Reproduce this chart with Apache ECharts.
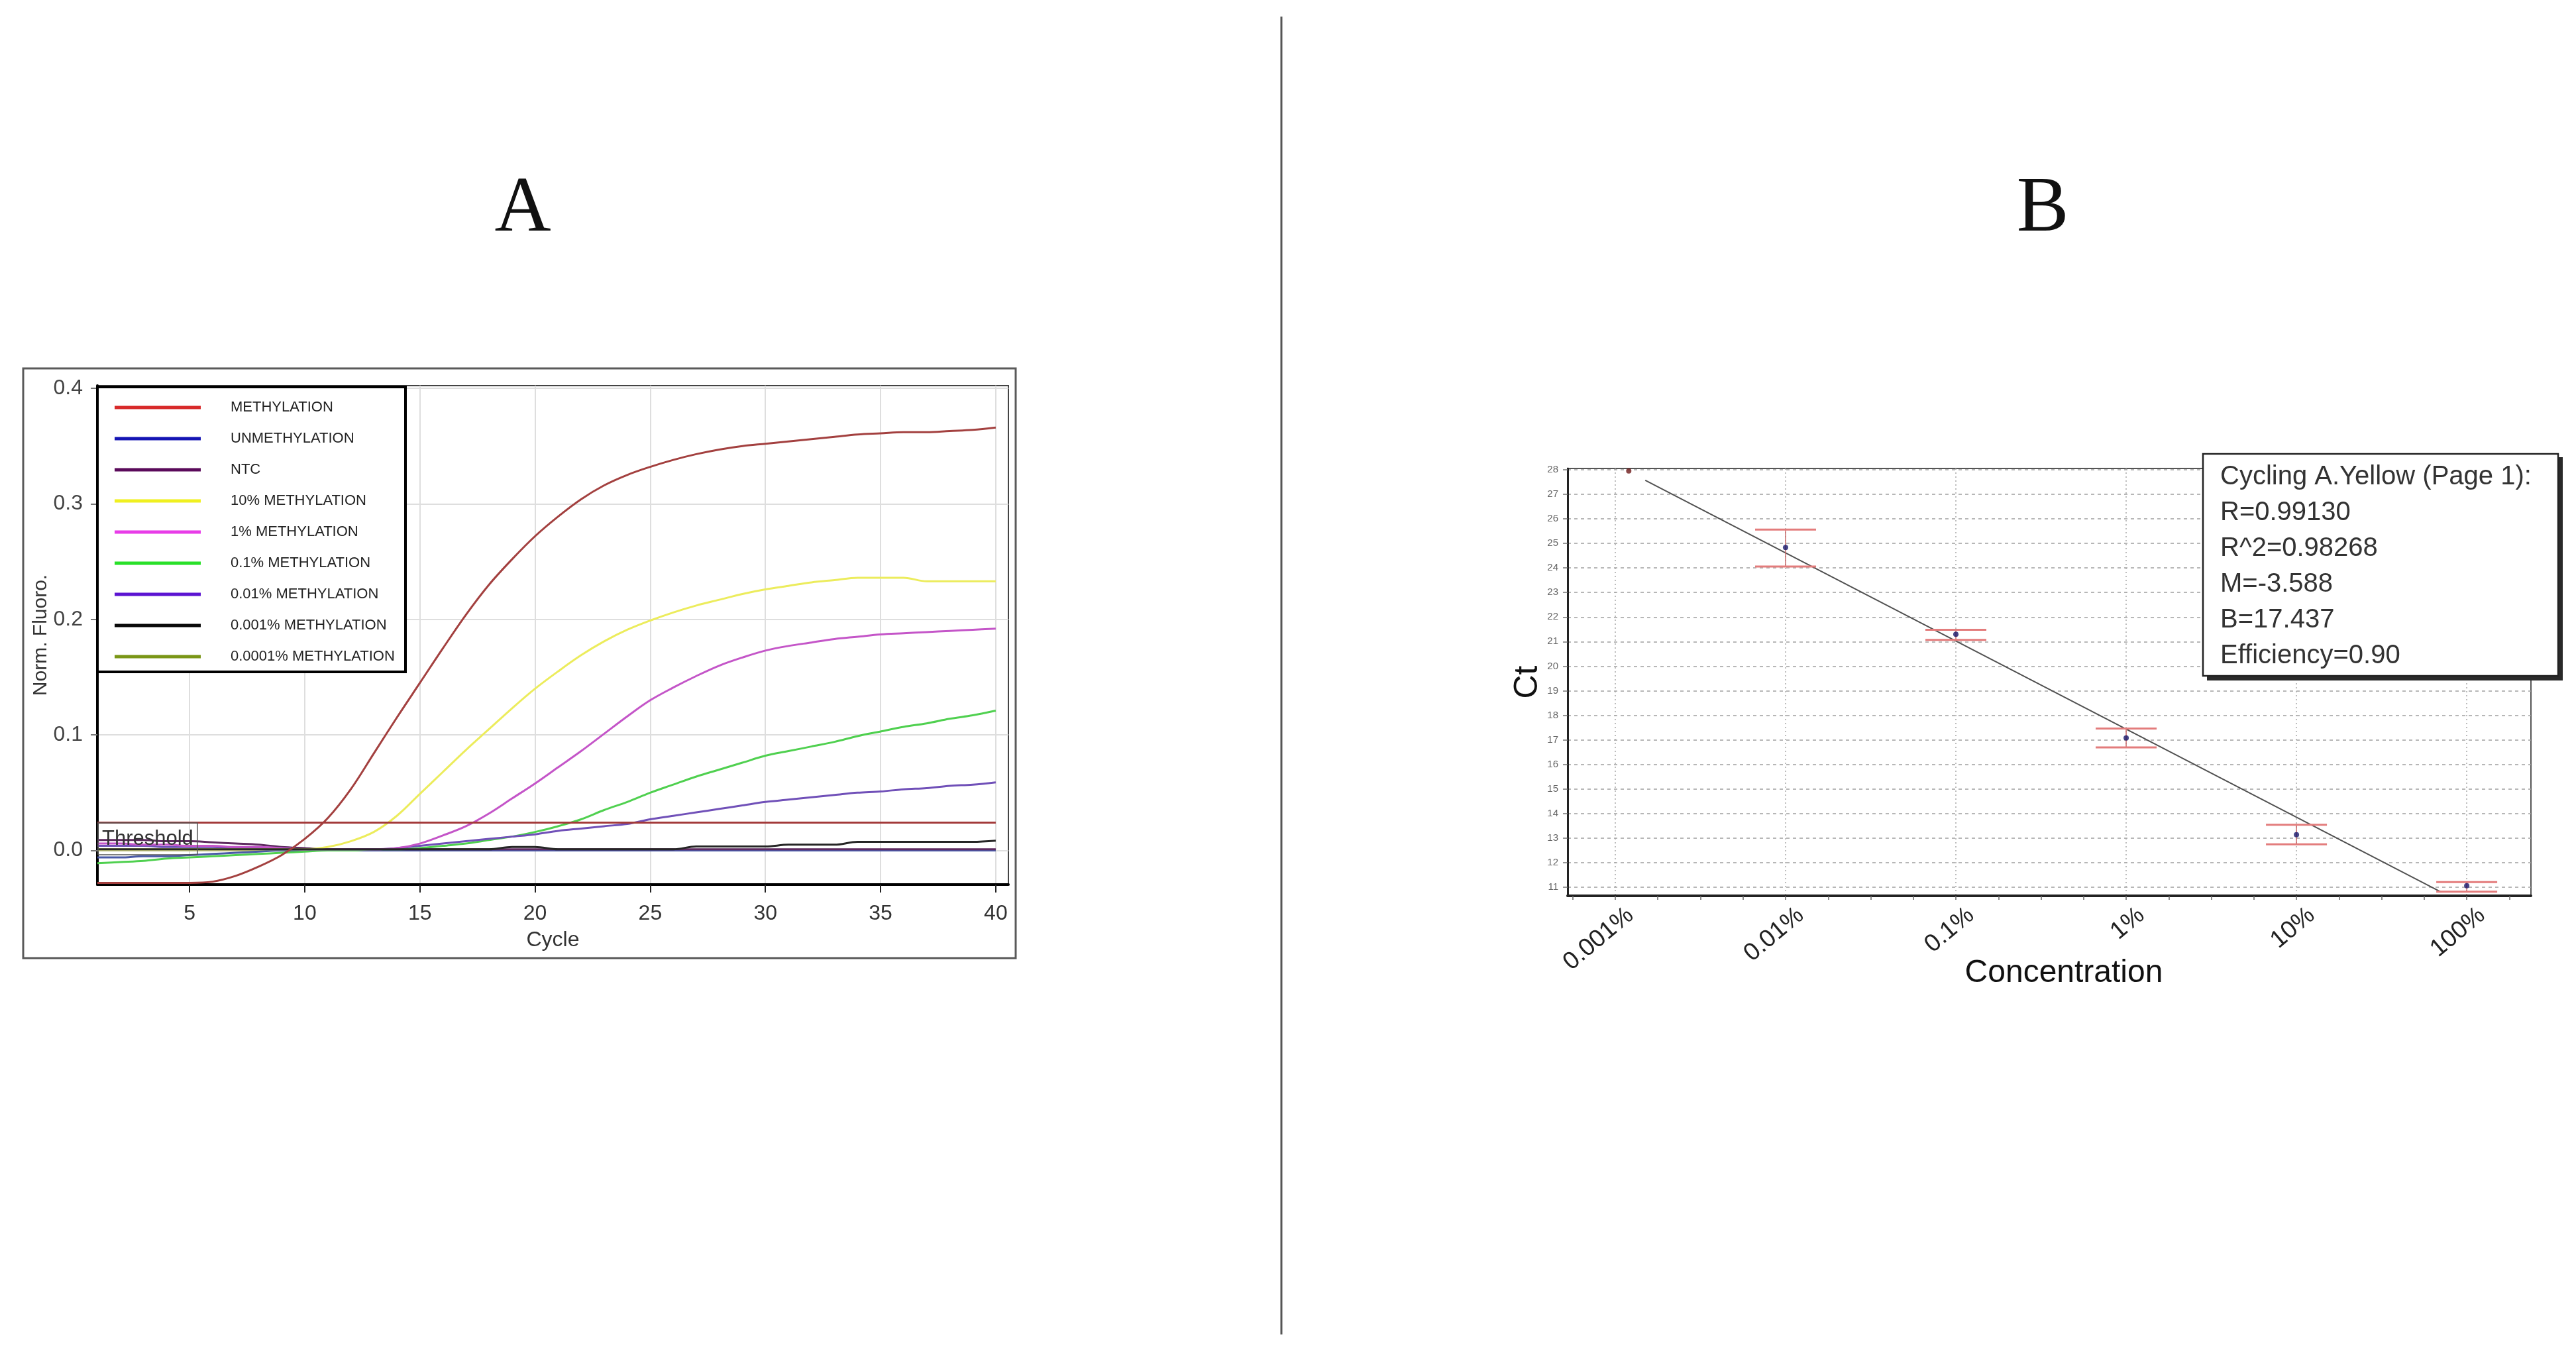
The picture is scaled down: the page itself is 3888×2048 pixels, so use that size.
<!DOCTYPE html>
<html><head><meta charset="utf-8">
<script src="https://cdn.jsdelivr.net/npm/echarts@6/dist/echarts.min.js"></script>
<style>html,body{margin:0;padding:0;background:#fff;}#c{width:3888px;height:2048px;}</style>
</head><body><div id="c"></div>
<script>
// ---------- Panel A data ----------
const cycles = [1,2,3,4,5,6,7,8,9,10,11,12,13,14,15,16,17,18,19,20,21,22,23,24,25,26,27,28,29,30,31,32,33,34,35,36,37,38,39,40];
const seriesNames = ['METHYLATION','UNMETHYLATION','NTC','10% METHYLATION','1% METHYLATION','0.1% METHYLATION','0.01% METHYLATION','0.001% METHYLATION','0.0001% METHYLATION'];
const methylation = [-0.028,-0.028,-0.028,-0.028,-0.028,-0.027,-0.022,-0.014,-0.004,0.010,0.028,0.053,0.084,0.115,0.145,0.175,0.204,0.230,0.252,0.272,0.289,0.304,0.316,0.325,0.332,0.338,0.343,0.347,0.350,0.352,0.354,0.356,0.358,0.360,0.361,0.362,0.362,0.363,0.364,0.366];
const unmethylation = [-0.006,-0.006,-0.005,-0.005,-0.004,-0.003,-0.002,-0.001,0.000,0.000,0.000,0.000,0.000,0.000,0.000,0.000,0.000,0.000,0.000,0.000,0.000,0.000,0.000,0.000,0.000,0.000,0.000,0.000,0.000,0.000,0.000,0.000,0.000,0.000,0.000,0.000,0.000,0.000,0.000,0.000];
const ntc = [0.009,0.009,0.009,0.008,0.008,0.007,0.006,0.005,0.003,0.002,0.001,0.001,0.001,0.001,0.001,0.001,0.001,0.001,0.001,0.001,0.001,0.001,0.001,0.001,0.001,0.001,0.001,0.001,0.001,0.001,0.001,0.001,0.001,0.001,0.001,0.001,0.001,0.001,0.001,0.001];
const meth10 = [0.001,0.001,0.001,0.001,0.001,0.001,0.001,0.001,0.001,0.001,0.003,0.008,0.016,0.030,0.049,0.068,0.087,0.105,0.123,0.140,0.155,0.169,0.181,0.191,0.199,0.206,0.212,0.217,0.222,0.226,0.229,0.232,0.234,0.236,0.236,0.236,0.233,0.233,0.233,0.233];
const meth1 = [0.006,0.006,0.005,0.005,0.004,0.004,0.003,0.003,0.002,0.001,0.001,0.001,0.001,0.002,0.006,0.013,0.021,0.032,0.045,0.058,0.072,0.086,0.101,0.116,0.130,0.141,0.151,0.160,0.167,0.173,0.177,0.180,0.183,0.185,0.187,0.188,0.189,0.190,0.191,0.192];
const meth01 = [-0.011,-0.010,-0.009,-0.007,-0.006,-0.005,-0.004,-0.003,-0.002,-0.001,0.000,0.000,0.001,0.001,0.002,0.004,0.006,0.009,0.012,0.016,0.021,0.027,0.035,0.042,0.050,0.057,0.064,0.070,0.076,0.082,0.086,0.090,0.094,0.099,0.103,0.107,0.110,0.114,0.117,0.121];
const meth001 = [0.004,0.004,0.004,0.003,0.003,0.003,0.002,0.002,0.002,0.001,0.001,0.001,0.001,0.002,0.004,0.006,0.008,0.010,0.012,0.014,0.017,0.019,0.021,0.023,0.027,0.030,0.033,0.036,0.039,0.042,0.044,0.046,0.048,0.050,0.051,0.053,0.054,0.056,0.057,0.059];
const meth0001 = [0.001,0.001,0.001,0.001,0.001,0.001,0.001,0.001,0.001,0.001,0.001,0.001,0.001,0.001,0.001,0.001,0.001,0.001,0.003,0.003,0.001,0.001,0.001,0.001,0.001,0.001,0.0035,0.0035,0.0035,0.0035,0.005,0.005,0.005,0.0075,0.0075,0.0075,0.0075,0.0075,0.0075,0.0085];
const meth00001 = [0,0,0,0,0,0,0,0,0,0,0,0,0,0,0,0,0,0,0,0,0,0,0,0,0,0,0,0,0,0,0,0,0,0,0,0,0,0,0,0];
const thresholdValue = 0.0244;
const cycleTicks = [5,10,15,20,25,30,35,40];
const fluoroTicks = [0,0.1,0.2,0.3,0.4];

// ---------- Panel B data ----------
const concTicks = [0.001,0.01,0.1,1,10,100];
const concTickLabels = ['0.001%','0.01%','0.1%','1%','10%','100%'];
const ctTicks = [11,12,13,14,15,16,17,18,19,20,21,22,23,24,25,26,27,28];
const stdConc = [0.01,0.1,1,10,100];
const stdCt = [24.83,21.30,17.08,13.14,11.06];
const stdCtHigh = [25.56,21.48,17.46,13.54,11.21];
const stdCtLow = [24.06,21.07,16.69,12.75,10.82];
const extraConc = [0.0012];
const extraCt = [27.95];
const fitConc = [0.0015,70.8];
const fitCt = [27.57,10.80];
const fitStats = ['Cycling A.Yellow (Page 1):','R=0.99130','R^2=0.98268','M=-3.588','B=17.437','Efficiency=0.90'];

// ---------- styles ----------
const lineColors = ['#a3403f','#4a5aa8','#5e2a60','#ecec5c','#c455c8','#4fd04f','#7050b8','#262626','#c4c78a'];
const legendColors = ['#d82a2a','#1414b4','#5a0a5a','#f0f020','#e83ce8','#28e028','#5c14d2','#0a0a0a','#7a9616'];
const FONT = '"Liberation Sans", Arial, sans-serif';

const curves = [methylation, unmethylation, ntc, meth10, meth1, meth01, meth001, meth0001, meth00001];
const drawOrder = [8,1,2,5,6,4,3,7,0];

const lg = Math.log10;
const seriesA = drawOrder.map(i => {
  const s = {
    type:'line', name: seriesNames[i], xAxisIndex:0, yAxisIndex:0,
    data: cycles.map((c,j)=>[c, curves[i][j]]),
    showSymbol:false, smooth:0.35,
    lineStyle:{color: lineColors[i], width:3}, itemStyle:{color: lineColors[i]},
    emphasis:{disabled:true}
  };
  if (i === 0) {
    s.markLine = {
      silent:true, symbol:'none', animation:false,
      lineStyle:{color:'#a33a3a', width:3, type:'solid'},
      data:[[{coord:[1, thresholdValue]},{coord:[40, thresholdValue]}]],
      label:{show:true, position:'insideStartBottom', distance:[1,1], formatter:'Threshold',
        fontSize:31, color:'#333', fontFamily:FONT, borderColor:'#555', borderWidth:1.5,
        padding:[9,6,8,6]}
    };
  }
  return s;
});

const quarterTicks = [];
for (let v = -3.25; v <= 2.26; v += 0.25) quarterTicks.push(+v.toFixed(2));

const seriesB = [
  {type:'line', xAxisIndex:1, yAxisIndex:1, data: fitConc.map((c,i)=>[lg(c), fitCt[i]]),
   showSymbol:false, lineStyle:{color:'#505050', width:2}, z:3},
  {type:'custom', xAxisIndex:1, yAxisIndex:1,
   data: stdConc.map((c,i)=>[lg(c), stdCtLow[i], stdCtHigh[i]]),
   renderItem: function(params, api){
     const x = api.value(0);
     const pHi = api.coord([x, api.value(2)]);
     const pLo = api.coord([x, api.value(1)]);
     const hw = 46;
     return {type:'group', children:[
       {type:'line', shape:{x1:pHi[0],y1:pHi[1],x2:pLo[0],y2:pLo[1]}, style:{stroke:'#c86a6a', lineWidth:1.5}},
       {type:'line', shape:{x1:pHi[0]-hw,y1:pHi[1],x2:pHi[0]+hw,y2:pHi[1]}, style:{stroke:'#e37c7c', lineWidth:3}},
       {type:'line', shape:{x1:pLo[0]-hw,y1:pLo[1],x2:pLo[0]+hw,y2:pLo[1]}, style:{stroke:'#e37c7c', lineWidth:3}}
     ]};
   }, z:4},
  {type:'scatter', xAxisIndex:1, yAxisIndex:1, data: stdConc.map((c,i)=>[lg(c), stdCt[i]]),
   symbolSize:8, itemStyle:{color:'#16166a'}, z:5},
  {type:'scatter', xAxisIndex:1, yAxisIndex:1, data: extraConc.map((c,i)=>[lg(c), extraCt[i]]),
   symbolSize:8, itemStyle:{color:'#6e1a1a'}, z:5}
];

const chart = echarts.init(document.getElementById('c'), null, {renderer:'canvas'});
chart.setOption({
  animation:false,
  backgroundColor:'#fff',
  grid:[
    {left:147, top:582, width:1375, height:753, show:true, borderColor:'#444', borderWidth:2, backgroundColor:'transparent', outerBoundsMode:'none'},
    {left:2366, top:707, width:1454, height:645, show:true, borderColor:'#555', borderWidth:2, backgroundColor:'transparent', outerBoundsMode:'none'}
  ],
  legend:{
    data: seriesNames.map((n,i)=>({name:n, itemStyle:{color:legendColors[i]}, lineStyle:{color:legendColors[i]}})),
    orient:'vertical', left:173, top:603, padding:0, itemGap:23,
    icon:'rect', itemWidth:130, itemHeight:5, selectedMode:false,
    textStyle:{fontSize:22, color:'#222', fontFamily:FONT, lineHeight:24, padding:[0,0,0,40]},
    z:5
  },
  xAxis:[
    {gridIndex:0, type:'value', min:1, max:40.55,
     axisLine:{show:true, onZero:false, lineStyle:{color:'#000', width:4}},
     axisTick:{show:true, customValues:cycleTicks, length:12, lineStyle:{color:'#222', width:2}},
     axisLabel:{customValues:cycleTicks, fontSize:32, color:'#333', fontFamily:FONT, margin:28},
     splitLine:{show:true, lineStyle:{color:'#dedede', width:2}},
     name:'Cycle', nameLocation:'middle', nameGap:68, nameTextStyle:{fontSize:32, color:'#333', fontFamily:FONT}},
    {gridIndex:1, type:'value', min:-3.28, max:2.377,
     axisLine:{show:true, onZero:false, lineStyle:{color:'#222', width:4}},
     axisTick:{show:true, customValues:concTicks.map(lg), length:6, lineStyle:{color:'#666', width:1.5}},
     axisLabel:{customValues:concTicks.map(lg), rotate:40, fontSize:37, color:'#222', fontFamily:FONT, margin:44,
       padding:[0,-30,0,0],
       formatter: v => concTickLabels[concTicks.findIndex(c => Math.abs(lg(c)-v) < 1e-6)] || ''},
     splitLine:{show:true, lineStyle:{color:'#a8a8a8', width:1.5, type:[2,4]}},
     name:'Concentration', nameLocation:'middle', nameGap:93, nameMoveOverlap:false,
     nameTextStyle:{fontSize:48, color:'#111', fontFamily:FONT, padding:[0,0,0,44]}},
    {gridIndex:1, type:'value', min:-3.28, max:2.377, position:'bottom',
     axisLine:{show:false}, axisLabel:{show:false}, splitLine:{show:false},
     axisTick:{show:true, customValues:quarterTicks, length:6, lineStyle:{color:'#666', width:1.5}}}
  ],
  yAxis:[
    {gridIndex:0, type:'value', min:-0.0295, max:0.4023,
     axisLine:{show:true, onZero:false, lineStyle:{color:'#000', width:4}},
     axisTick:{show:true, customValues:fluoroTicks, length:10, lineStyle:{color:'#777', width:2}},
     axisLabel:{customValues:fluoroTicks, fontSize:32, color:'#444', fontFamily:FONT, margin:22, formatter: v => v.toFixed(1)},
     splitLine:{show:true, lineStyle:{color:'#dedede', width:2}},
     name:'Norm. Fluoro.', nameLocation:'middle', nameGap:70, nameTextStyle:{fontSize:30, color:'#333', fontFamily:FONT}},
    {gridIndex:1, type:'value', min:10.65, max:28.05,
     axisLine:{show:true, onZero:false, lineStyle:{color:'#222', width:3}},
     axisTick:{show:true, customValues:ctTicks, length:7, lineStyle:{color:'#777', width:1.5}},
     axisLabel:{customValues:ctTicks, fontSize:15, color:'#666', fontFamily:FONT, margin:14},
     splitLine:{show:true, lineStyle:{color:'#a0a0a0', width:1.5, type:[5,5]}},
     name:'Ct', nameLocation:'middle', nameGap:31, nameTextStyle:{fontSize:50, color:'#111', fontFamily:FONT}}
  ],
  series: seriesA.concat(seriesB),
  graphic:[
    {type:'rect', shape:{x:35,y:556,width:1498,height:890}, style:{fill:'none', stroke:'#5a5a5a', lineWidth:3}, z:1},
    {type:'rect', shape:{x:147,y:584,width:465,height:430}, style:{fill:'#fff', stroke:'#000', lineWidth:4}, z:3},
    {type:'line', shape:{x1:1934,y1:25,x2:1934,y2:2014}, style:{stroke:'#555', lineWidth:3}, z:1},
    {type:'text', x:789, y:317, style:{text:'A', font:'118px "Liberation Serif", "Times New Roman", serif', fill:'#111', align:'center', verticalAlign:'middle', textAlign:'center', textVerticalAlign:'middle'}, z:1},
    {type:'text', x:3083, y:317, style:{text:'B', font:'118px "Liberation Serif", "Times New Roman", serif', fill:'#111', align:'center', verticalAlign:'middle', textAlign:'center', textVerticalAlign:'middle'}, z:1},
    {type:'rect', shape:{x:3331,y:690,width:537,height:337}, style:{fill:'#2a2a2a'}, z:10},
    {type:'rect', shape:{x:3325,y:685,width:536,height:335}, style:{fill:'#fff', stroke:'#222', lineWidth:2.5}, z:11},
    {type:'text', x:3351, y:693, style:{text: fitStats.join('\n'), font:'40px "Liberation Sans", Arial, sans-serif', lineHeight:54, fill:'#333', align:'left', verticalAlign:'top'}, z:12}
  ]
});
</script></body></html>
